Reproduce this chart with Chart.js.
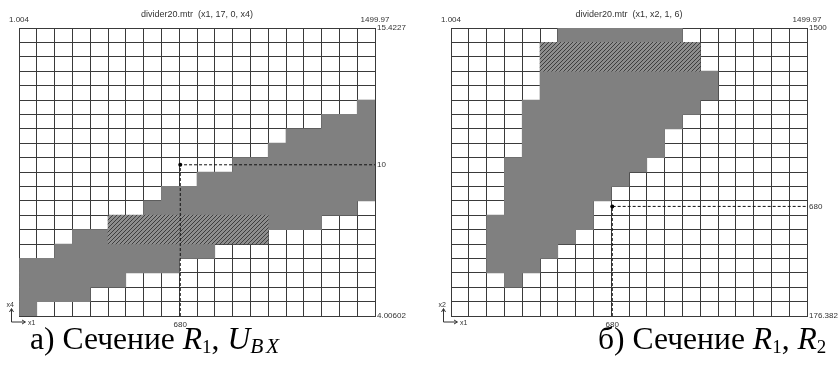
<!DOCTYPE html>
<html>
<head>
<meta charset="utf-8">
<script src="https://cdn.jsdelivr.net/npm/chart.js@4.4.1/dist/chart.umd.min.js"></script>
<style>
  html, body { margin: 0; padding: 0; background: #fff; }
  #wrap { position: relative; width: 839px; height: 372px; overflow: hidden; }
  .panel { position: absolute; top: 0; height: 340px; }
  .panel canvas { position: absolute; left: 0; top: 0; }
  .panel svg { position: absolute; left: 0; top: 0; overflow: visible; }
  .cap { position: absolute; top: 324px; font-family: "Liberation Serif", "Times New Roman", serif;
         font-size: 31.6px; line-height: 30px; color: #000; white-space: nowrap; }
  .cap sub { font-size: 0.6em; vertical-align: -0.22em; line-height: 0; }
  .cap sub.wide { font-size: 0.68em; letter-spacing: 0.12em; vertical-align: -0.2em; }
</style>
</head>
<body>
<div id="wrap">
  <div class="panel" style="left:0;width:419px">
    <canvas id="secA" width="419" height="340"></canvas>
    <svg width="60" height="40" style="left:0;top:296px">
      <text x="6.5" y="11" font-family="Liberation Sans, Arial, sans-serif" font-size="7" fill="#333">x4</text>
      <path d="M11.5 26 V13 M9.5 16 L11.5 12.5 L13.5 16 M11.5 26 H25 M22 24 L25.5 26 L22 28" stroke="#333" stroke-width="1" fill="none"/>
      <text x="28" y="28.5" font-family="Liberation Sans, Arial, sans-serif" font-size="7" fill="#333">x1</text>
    </svg>
  </div>
  <div class="panel" style="left:419px;width:420px">
    <canvas id="secB" width="420" height="340"></canvas>
    <svg width="60" height="40" style="left:13px;top:296px">
      <text x="6.5" y="11" font-family="Liberation Sans, Arial, sans-serif" font-size="7" fill="#333">x2</text>
      <path d="M11.5 26 V13 M9.5 16 L11.5 12.5 L13.5 16 M11.5 26 H25 M22 24 L25.5 26 L22 28" stroke="#333" stroke-width="1" fill="none"/>
      <text x="28" y="28.5" font-family="Liberation Sans, Arial, sans-serif" font-size="7" fill="#333">x1</text>
    </svg>
  </div>
  <div class="cap" style="left:30px">а) Сечение <i>R</i><sub>1</sub>, <i>U</i><sub class="wide"><i>BX</i></sub></div>
  <div class="cap" style="left:598px">б) Сечение <i>R</i><sub>1</sub>, <i>R</i><sub>2</sub></div>
</div>
<script>
// Grid rows, top to bottom (20 x 20 cells per section)
const rows = ['1','2','3','4','5','6','7','8','9','10','11','12','13','14','15','16','17','18','19','20'];

// Section a) x1 vs x4: filled cell runs per row as [firstColumn, lastColumn + 1]
const filledA = [null, null, null, null, null, [19,20], [17,20], [15,20], [14,20], [12,20],
                 [10,20], [8,20], [7,19], [14,17], [3,5], [2,11], [0,9], [0,6], [0,4], [0,1]];
const hatchedA = [null, null, null, null, null, null, null, null, null, null,
                  null, null, null, [5,14], [5,14], null, null, null, null, null];
const rangeXA = [1.004, 1499.97];
const rangeYA = [4.00602, 15.4227];
const markA = { x: 680, y: 10 };
const titleA = 'divider20.mtr  (x1, 17, 0, x4)';

// Section б) x1 vs x2
const filledB = [[6,13], null, null, [5,15], [5,15], [4,14], [4,13], [4,12], [4,12], [3,11],
                 [3,10], [3,9], [3,8], [2,8], [2,7], [2,6], [2,5], [3,4], null, null];
const hatchedB = [null, [5,14], [5,14], null, null, null, null, null, null, null,
                  null, null, null, null, null, null, null, null, null, null];
const rangeXB = [1.004, 1499.97];
const rangeYB = [176.382, 1500];
const markB = { x: 680, y: 680 };
const titleB = 'divider20.mtr  (x1, x2, 1, 6)';

const GRID = '#3a3a3a';
const FILL = '#808080';
const TEXT = '#333';
const TITLE_FONT = { family: 'Liberation Sans, Arial, sans-serif', size: 9 };
const VALUE_FONT = { family: 'Liberation Sans, Arial, sans-serif', size: 8 };

function hatchPattern() {
  const c = document.createElement('canvas');
  c.width = 4; c.height = 4;
  const g = c.getContext('2d');
  g.fillStyle = '#8e8e8e';
  g.fillRect(0, 0, 4, 4);
  g.strokeStyle = '#3e3e3e';
  g.lineWidth = 1;
  g.beginPath();
  [0, 4, 8].forEach(s => { g.moveTo(s - 5, 5); g.lineTo(s + 1, -1); });
  g.stroke();
  return g.createPattern(c, 'repeat');
}

function section(id, cfg) {
  const canvas = document.getElementById(id);
  const W = canvas.width;
  const valueTicks = (padding) => ({ font: VALUE_FONT, color: TEXT, padding, autoSkip: false,
                                     maxRotation: 0, minRotation: 0, callback: v => String(v) });
  const noGrid = { display: false, drawTicks: false };
  new Chart(canvas, {
    type: 'bar',
    data: {
      labels: rows,
      datasets: [
        { data: cfg.filled, indexAxis: 'y', xAxisID: 'x', yAxisID: 'y', grouped: false, order: 2,
          backgroundColor: FILL, borderWidth: 0, barPercentage: 1, categoryPercentage: 1 },
        { data: cfg.hatched, indexAxis: 'y', xAxisID: 'x', yAxisID: 'y', grouped: false, order: 1,
          backgroundColor: hatchPattern(), borderWidth: 0, barPercentage: 1, categoryPercentage: 1 },
        { type: 'line', indexAxis: 'x', xAxisID: 'xb', yAxisID: 'yr', order: 0,
          data: [{ x: cfg.mark.x, y: cfg.rangeY[0] }, { x: cfg.mark.x, y: cfg.mark.y }, { x: cfg.rangeX[1], y: cfg.mark.y }],
          borderColor: '#111', borderWidth: 1, borderDash: [3, 2], fill: false, tension: 0,
          pointRadius: [0, 2, 0], pointBackgroundColor: '#000', pointBorderWidth: 0 }
      ]
    },
    options: {
      responsive: false,
      animation: false,
      devicePixelRatio: 1,
      layout: { padding: { left: cfg.left, right: 0, top: 0, bottom: 0 } },
      plugins: { legend: { display: false }, tooltip: { enabled: false } },
      scales: {
        x: { type: 'linear', position: 'bottom', min: 0, max: 20, offset: false,
             ticks: { display: false, stepSize: 1, maxTicksLimit: 30 },
             grid: { color: GRID, drawTicks: false, offset: false }, border: { color: GRID },
             afterFit: s => { s.height = 0; } },
        y: { type: 'category', position: 'left', offset: true,
             ticks: { display: false },
             grid: { color: GRID, drawTicks: false, offset: true }, border: { color: GRID },
             afterFit: s => { s.width = 0; } },
        xt: { type: 'linear', position: 'top', min: cfg.rangeX[0], max: cfg.rangeX[1], offset: false,
              grid: noGrid, border: { display: false }, ticks: valueTicks(3),
              afterBuildTicks: s => { s.ticks = cfg.rangeX.map(v => ({ value: v })); },
              title: { display: true, text: cfg.title, font: TITLE_FONT, color: TEXT, padding: { top: 9.6, bottom: 0 } },
              afterFit: s => { s.height = 28; } },
        xb: { type: 'linear', position: 'bottom', min: cfg.rangeX[0], max: cfg.rangeX[1], offset: false,
              grid: noGrid, border: { display: false }, ticks: valueTicks(4),
              afterBuildTicks: s => { s.ticks = [{ value: cfg.mark.x }]; },
              afterFit: s => { s.height = 24; } },
        yr: { type: 'linear', position: 'right', min: cfg.rangeY[0], max: cfg.rangeY[1], offset: false,
              grid: noGrid, border: { display: false }, ticks: valueTicks(2),
              afterBuildTicks: s => { s.ticks = [cfg.rangeY[0], cfg.mark.y, cfg.rangeY[1]].map(v => ({ value: v })); },
              afterFit: s => { s.width = W - cfg.right; } }
      }
    }
  });
}

section('secA', { filled: filledA, hatched: hatchedA, rangeX: rangeXA, rangeY: rangeYA,
                  mark: markA, title: titleA, left: 19, right: 375 });
section('secB', { filled: filledB, hatched: hatchedB, rangeX: rangeXB, rangeY: rangeYB,
                  mark: markB, title: titleB, left: 32, right: 388 });
</script>
</body>
</html>
